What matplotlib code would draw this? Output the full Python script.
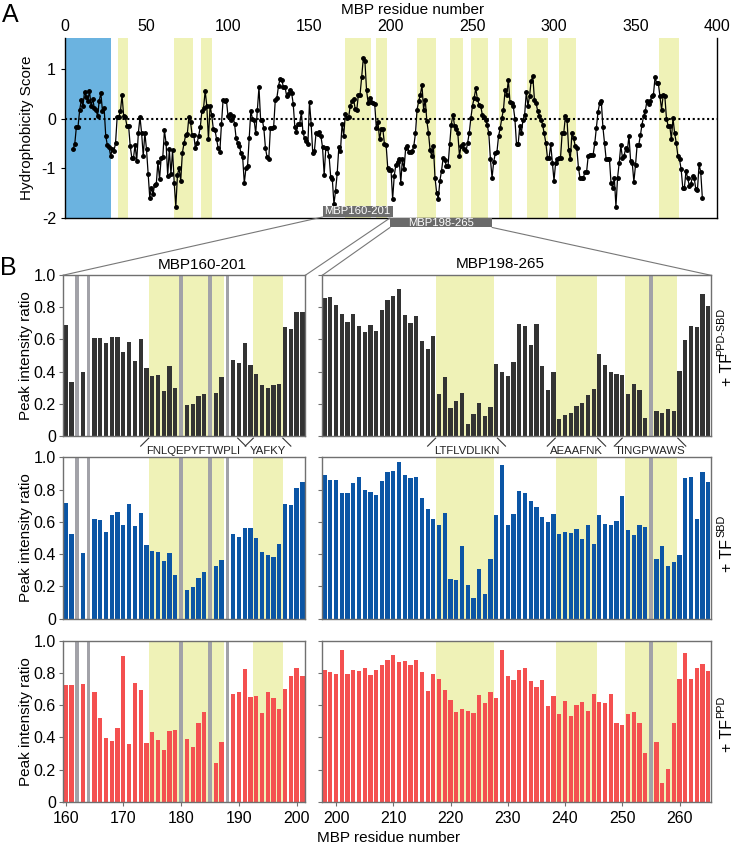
import numpy as np
import matplotlib.pyplot as plt
from matplotlib.patches import Rectangle, ConnectionPatch
from matplotlib.lines import Line2D

plt.rcParams['font.family'] = ['Liberation Sans', 'DejaVu Sans']

# ---------------- data ----------------
# A: hydrophobicity score, one value per residue starting at residue 5
hydro_start = 5
hydro = [
    -0.61, -0.51, -0.16, -0.16, 0.17, 0.37, 0.25, 0.54, 0.43, 0.35,
    0.56, 0.25, 0.40, 0.21, 0.18, 0.05, 0.36, 0.51, 0.15, 0.21,
    -0.35, -0.54, -0.57, -0.75, -0.62, -0.65, -0.50, 0.03, 0.03, 0.15,
    0.47, 0.05, 0.03, -0.15, -0.14, -0.55, -0.79, -0.79, -0.53, -0.85,
    -0.29, 0.03, -0.29, -0.75, -0.29, -0.62, -1.12, -1.59, -1.39, -1.52,
    -1.33, -1.32, -0.87, -1.22, -0.79, -0.77, -0.24, -0.49, -1.15, -0.62,
    -1.12, -0.63, -1.30, -1.77, -1.13, -1.00, -1.25, -0.69, -0.50, -0.34,
    -0.32, 0.03, -0.07, -0.33, -0.33, -0.60, -0.50, -0.35, -0.17, 0.15,
    0.21, 0.56, 0.25, -0.42, 0.26, 0.07, -0.21, -0.23, -0.42, -0.60,
    -0.67, -0.10, 0.38, 0.35, 0.38, 0.05, 0.10, -0.02, 0.05, -0.10,
    -0.40, -0.50, -0.55, -0.70, -0.78, -1.30, -1.00, -0.95, -0.40, 0.15,
    0.00, -0.02, -0.30, 0.18, 0.63, -0.02, -0.02, -0.20, -0.60, -0.78,
    -0.82, -0.20, -0.18, -0.17, 0.37, 0.42, 0.66, 0.80, 0.78, 0.63,
    0.63, 0.45, 0.50, 0.57, 0.52, 0.30, -0.17, -0.27, -0.10, -0.10,
    0.13, -0.28, -0.40, -0.45, -0.52, 0.33, -0.10, -0.70, -0.65, -0.30,
    -0.32, -0.27, -0.35, -0.58, -1.13, -0.60, -0.60, -0.75, -1.17, -1.22,
    -1.72, -1.45, -1.10, -0.57, -0.65, -0.10, -0.35, 0.10, 0.02, 0.03,
    0.25, 0.35, 0.40, 0.20, 0.17, 0.48, 0.48, 0.83, 1.21, 1.15,
    0.57, 0.31, 0.41, 0.33, 0.31, 0.30, -0.19, -0.07, -0.42, -0.22,
    -0.21, -0.52, -0.53, -0.99, -1.03, -1.03, -1.62, -1.15, -0.93, -0.87,
    -0.81, -1.29, -0.82, -1.02, -0.59, -0.55, -0.67, -0.67, -0.65, -0.55,
    -0.30, 0.18, 0.35, 0.48, 0.67, 0.18, 0.38, -0.05, -0.29, -0.64,
    -0.75, -0.55, -1.19, -1.49, -1.61, -1.25, -1.05, -0.79, -0.84, -0.95,
    -0.95, -0.52, -0.12, 0.08, -0.15, -0.22, -0.30, -0.75, -0.55, -0.51,
    -0.62, -0.66, -0.49, -0.29, 0.01, 0.26, 0.41, 0.61, 0.39, 0.28,
    0.26, 0.08, 0.03, -0.02, -0.12, -0.30, -0.82, -1.19, -0.87, -0.70,
    -0.67, -0.35, -0.19, 0.01, 0.18, 0.58, 0.48, 0.78, 0.33, 0.31,
    0.25, 0.00, -0.52, -0.52, -0.15, -0.29, -0.02, 0.08, 0.53, 0.26,
    0.45, 0.76, 0.85, 0.38, 0.31, 0.15, 0.05, -0.02, -0.12, -0.30,
    -0.49, -0.79, -0.79, -0.52, -0.89, -1.25, -0.89, -0.82, -0.79, -0.79,
    -0.29, -0.29, 0.05, -0.02, -0.63, -0.82, -0.30, -0.39, -0.55, -0.60,
    -0.99, -1.20, -1.20, -1.19, -1.07, -1.07, -0.75, -0.73, -0.73, -0.73,
    -0.50, -0.19, 0.13, 0.31, 0.36, -0.17, -0.49, -0.82, -0.81, -0.81,
    -1.30, -1.39, -1.19, -1.77, -1.19, -0.89, -0.54, -0.79, -0.75, -0.59,
    -0.64, -0.35, -0.85, -0.89, -1.27, -0.94, -0.53, -0.53, -0.34, -0.12,
    0.05, 0.15, 0.35, 0.30, 0.35, 0.45, 0.48, 0.83, 0.71, 0.71,
    0.45, 0.18, 0.48, 0.45, 0.00, -0.14, -0.14, -0.42, 0.01, -0.29,
    -0.49, -0.75, -0.82, -1.02, -1.39, -1.39, -1.05, -1.20, -1.35, -1.32,
    -1.15, -1.19, -1.42, -1.44, -0.92, -1.07, -1.59,
]
hydro_res = np.arange(hydro_start, hydro_start + len(hydro))
signal_region = (0, 28)
top_yellow = [(32.5, 38.5), (67, 78.5), (83.5, 90), (171.5, 188), (191, 197.5),
              (216, 227.5), (236, 244), (249, 259.5), (266.5, 274.5),
              (283.5, 296.5), (303, 313.5), (364.5, 376.5)]

# B: peak intensity ratios (nan = residue not analysed, shown as grey bar)
nan = np.nan
left_res = np.arange(160, 202)
right_res = np.arange(198, 266)
left_gaps = [162, 164, 180, 185, 188]
right_gaps = [255]

left_ppd_sbd = [0.69, 0.334, nan, 0.396, nan, 0.607, 0.607, 0.578, 0.618, 0.618,
                0.52, 0.584, 0.468, 0.601, 0.425, 0.375, 0.379, 0.278, 0.433, 0.30,
                nan, 0.19, 0.197, 0.247, 0.259, nan, 0.267, 0.363, nan, 0.47,
                0.456, 0.576, 0.441, 0.383, 0.319, 0.30, 0.319, 0.325, 0.676, 0.665,
                0.773, 0.773]
left_sbd = [0.715, 0.527, nan, 0.409, nan, 0.616, 0.612, 0.537, 0.64, 0.661,
            0.58, 0.711, 0.576, 0.657, 0.455, 0.421, 0.413, 0.357, 0.409, 0.273,
            nan, 0.178, 0.196, 0.254, 0.287, nan, 0.326, 0.364, nan, 0.525,
            0.504, 0.562, 0.562, 0.502, 0.413, 0.393, 0.38, 0.461, 0.711, 0.705,
            0.808, 0.845]
left_ppd = [0.725, 0.725, nan, 0.729, nan, 0.681, 0.522, 0.398, 0.375, 0.458,
            0.905, 0.356, 0.735, 0.692, 0.366, 0.433, 0.385, 0.321, 0.439, 0.443,
            nan, 0.387, 0.337, 0.49, 0.559, nan, 0.24, 0.369, nan, 0.669,
            0.679, 0.822, 0.648, 0.658, 0.551, 0.679, 0.642, 0.576, 0.698, 0.781,
            0.83, 0.781]

right_ppd_sbd = [0.861, 0.865, 0.812, 0.76, 0.706, 0.76, 0.687, 0.648, 0.692, 0.654,
                 0.783, 0.845, 0.874, 0.915, 0.754, 0.702, 0.747, 0.592, 0.538, 0.619,
                 0.263, 0.366, 0.17, 0.219, 0.267, 0.075, 0.135, 0.205, 0.12, 0.18,
                 0.447, 0.398, 0.373, 0.46, 0.698, 0.685, 0.567, 0.694, 0.435, 0.282,
                 0.395, 0.106, 0.128, 0.141, 0.186, 0.205, 0.253, 0.29, 0.511, 0.441,
                 0.398, 0.385, 0.377, 0.257, 0.323, 0.288, 0.108, nan, 0.157, 0.141,
                 0.168, 0.155, 0.404, 0.596, 0.683, 0.675, 0.886, 0.81]
right_sbd = [0.891, 0.858, 0.858, 0.78, 0.776, 0.84, 0.879, 0.80, 0.784, 0.767,
             0.854, 0.907, 0.918, 0.969, 0.889, 0.874, 0.879, 0.749, 0.679, 0.617,
             0.578, 0.654, 0.245, 0.237, 0.451, 0.208, 0.128, 0.305, 0.154, 0.368,
             0.642, 0.951, 0.582, 0.646, 0.794, 0.778, 0.728, 0.695, 0.632, 0.597,
             0.65, 0.525, 0.537, 0.533, 0.556, 0.494, 0.58, 0.461, 0.642, 0.588,
             0.578, 0.607, 0.761, 0.547, 0.519, 0.58, 0.568, nan, 0.372, 0.451,
             0.325, 0.354, 0.397, 0.872, 0.877, 0.619, 0.909, 0.85]
right_ppd = [0.818, 0.804, 0.795, 0.94, 0.795, 0.82, 0.814, 0.831, 0.787, 0.816,
             0.851, 0.878, 0.913, 0.87, 0.872, 0.847, 0.882, 0.806, 0.688, 0.795,
             0.76, 0.692, 0.634, 0.556, 0.574, 0.562, 0.554, 0.665, 0.61, 0.68,
             0.645, 0.94, 0.783, 0.754, 0.82, 0.831, 0.75, 0.713, 0.756, 0.593,
             0.657, 0.543, 0.626, 0.535, 0.599, 0.622, 0.562, 0.671, 0.618, 0.612,
             0.667, 0.486, 0.479, 0.545, 0.56, 0.49, 0.302, nan, 0.368, 0.118,
             0.202, 0.486, 0.76, 0.926, 0.764, 0.829, 0.857, 0.814]

left_yellow = [(174.5, 187.5), (192.5, 197.6)]
right_yellow = [(217.5, 227.6), (238.5, 245.6), (250.5, 259.6)]
left_seqs = [("FNLQEPYFTWPLI", 174.4, 189.8), ("YAFKY", 192.5, 197.6)]
right_seqs = [("LTFLVDLIKN", 217.4, 228.2), ("AEAAFNK", 238.3, 245.7),
              ("TINGPWAWS", 250.0, 259.7)]
row_labels = ["PPD-SBD", "SBD", "PPD"]

# ---------------- figure ----------------
W, H = 737, 850
fig = plt.figure(figsize=(W / 100, H / 100), dpi=100)


def fx(px):
    return px / W


def fy(py):
    return 1 - py / H


yellow = '#eff2b7'
grey_bar = '#a2a2a8'
frame = '#707070'
TICK = 11.5
LAB = 11

# ---- panel A
axA = fig.add_axes([fx(65), fy(218), fx(717) - fx(65), fy(38) - fy(218)])
axA.axvspan(*signal_region, color='#6bb3e0', lw=0, zorder=0)
for a, b in top_yellow:
    axA.axvspan(a, b, color=yellow, lw=0, zorder=0)
axA.axhline(0, color='k', ls=(0, (1, 1.3)), lw=1.5, zorder=1)
axA.plot(hydro_res, hydro, '-o', color='k', lw=0.9, ms=2.5, zorder=3)
axA.set_xlim(0, 400)
axA.set_ylim(-2, 1.62)
axA.set_yticks([-2, -1, 0, 1])
axA.set_yticklabels(['-2', '-1', '0', '1'])
axA.xaxis.tick_top()
axA.set_xticks(range(0, 401, 50))
axA.tick_params(axis='x', length=0, pad=3, labelsize=TICK)
axA.tick_params(axis='y', length=3, labelsize=TICK)
axA.spines['top'].set_visible(False)
for s in ['left', 'bottom', 'right']:
    axA.spines[s].set_linewidth(1.0)

# sub-construct boxes under panel A
box1 = Rectangle((158.0, -1.98), 43.0, 0.23, facecolor='#6d6d6d', edgecolor='none',
                 clip_on=False, zorder=5)
box2 = Rectangle((199.4, -2.19), 62.6, 0.19, facecolor='#6a6a6a', edgecolor='none',
                 clip_on=False, zorder=5)
axA.add_patch(box1)
axA.add_patch(box2)
axA.text(179.5, -1.865, 'MBP160-201', color='white', fontsize=8.1, ha='center',
         va='center', zorder=6, clip_on=False)
axA.text(230.7, -2.095, 'MBP198-265', color='white', fontsize=8.1, ha='center',
         va='center', zorder=6, clip_on=False)

# ---- panel B
col_x = [(62.7, 305.3), (322.3, 711.0)]
row_y = [(275.3, 435.7), (457.3, 618.7), (640.7, 801.7)]
left_sets = [left_ppd_sbd, left_sbd, left_ppd]
right_sets = [right_ppd_sbd, right_sbd, right_ppd]
colors = ['#333333', '#0b55a5', '#f45050']

axes = []
for r in range(3):
    row_axes = []
    for c in range(2):
        x0, x1 = col_x[c]
        y0, y1 = row_y[r]
        ax = fig.add_axes([fx(x0), fy(y1), fx(x1) - fx(x0), fy(y0) - fy(y1)])
        if c == 0:
            res, vals, gaps, spans, xl = left_res, left_sets[r], left_gaps, left_yellow, (159.5, 201.5)
        else:
            res, vals, gaps, spans, xl = right_res, right_sets[r], right_gaps, right_yellow, (197.6, 265.5)
        for a, b in spans:
            ax.axvspan(a, b, color=yellow, lw=0, zorder=0)
        ax.bar(res, vals, width=0.74, color=colors[r], lw=0, zorder=2)
        ax.bar(gaps, [1.0] * len(gaps), width=0.58, color=grey_bar, lw=0, zorder=2)
        ax.set_xlim(*xl)
        ax.set_ylim(0, 1.0)
        ax.set_yticks([0, 0.2, 0.4, 0.6, 0.8, 1.0])
        if c == 0:
            ax.set_yticklabels(['0', '0.2', '0.4', '0.6', '0.8', '1.0'])
        else:
            ax.set_yticklabels([])
        ax.tick_params(axis='y', length=3, pad=2, labelsize=TICK, color=frame)
        if r == 2:
            ax.set_xticks(range(160, 201, 10) if c == 0 else range(200, 261, 10))
            ax.tick_params(axis='x', length=3, labelsize=TICK, color=frame)
        else:
            ax.set_xticks([])
        for s in ax.spines.values():
            s.set_color(frame)
            s.set_linewidth(1.0)
        row_axes.append(ax)
    axes.append(row_axes)

# sequence brackets between first and second row
for c, seqs in enumerate([left_seqs, right_seqs]):
    ax = axes[0][c]
    tr = ax.get_xaxis_transform()
    for seq, a, b in seqs:
        ax.add_line(Line2D([a, a - 1.4], [-0.015, -0.065], color='#333333', lw=0.8,
                           transform=tr, clip_on=False))
        ax.add_line(Line2D([b, b + 1.4], [-0.015, -0.065], color='#333333', lw=0.8,
                           transform=tr, clip_on=False))
        ax.text((a + b) / 2, -0.097, seq, transform=tr, ha='center', va='center',
                fontsize=8.2, color='#222222')

# connector lines from the boxes to the zoomed panels
conn = [((158.0, -1.98), axes[0][0], (0, 1)),
        ((199.4, -2.0), axes[0][0], (1, 1)),
        ((199.4, -2.19), axes[0][1], (0, 1)),
        ((262.0, -2.19), axes[0][1], (1, 1))]
for xyA, axB, xyB in conn:
    cp = ConnectionPatch(xyA=xyA, coordsA=axA.transData, xyB=xyB, coordsB=axB.transAxes,
                         color='#777777', lw=0.8)
    fig.add_artist(cp)

# texts
fig.text(fx(10), fy(15), 'A', fontsize=18, ha='center', va='center')
fig.text(fx(8), fy(268), 'B', fontsize=18, ha='center', va='center')
fig.text(fx(413), fy(10), 'MBP residue number', fontsize=LAB, ha='center', va='center')
fig.text(fx(389), fy(838), 'MBP residue number', fontsize=LAB, ha='center', va='center')
fig.text(fx(27), fy(128), 'Hydrophobicity Score', fontsize=LAB, rotation=90,
         ha='center', va='center')
for r in range(3):
    yc = (row_y[r][0] + row_y[r][1]) / 2
    fig.text(fx(26), fy(yc), 'Peak intensity ratio', fontsize=LAB, rotation=90,
             ha='center', va='center')
fig.text(fx(202), fy(265), 'MBP160-201', fontsize=LAB, ha='center', va='center')
fig.text(fx(500), fy(264), 'MBP198-265', fontsize=LAB, ha='center', va='center')

main_y = [369.5, 555, 735]
sup_y = [332, 526, 707]
for r, sup in enumerate(row_labels):
    fig.text(fx(728), fy(main_y[r]), '+ TF', fontsize=11.5, rotation=90,
             ha='center', va='center')
    fig.text(fx(721.5), fy(sup_y[r]), sup, fontsize=7.8, rotation=90,
             ha='center', va='center')

fig.savefig('out.png', dpi=100)
